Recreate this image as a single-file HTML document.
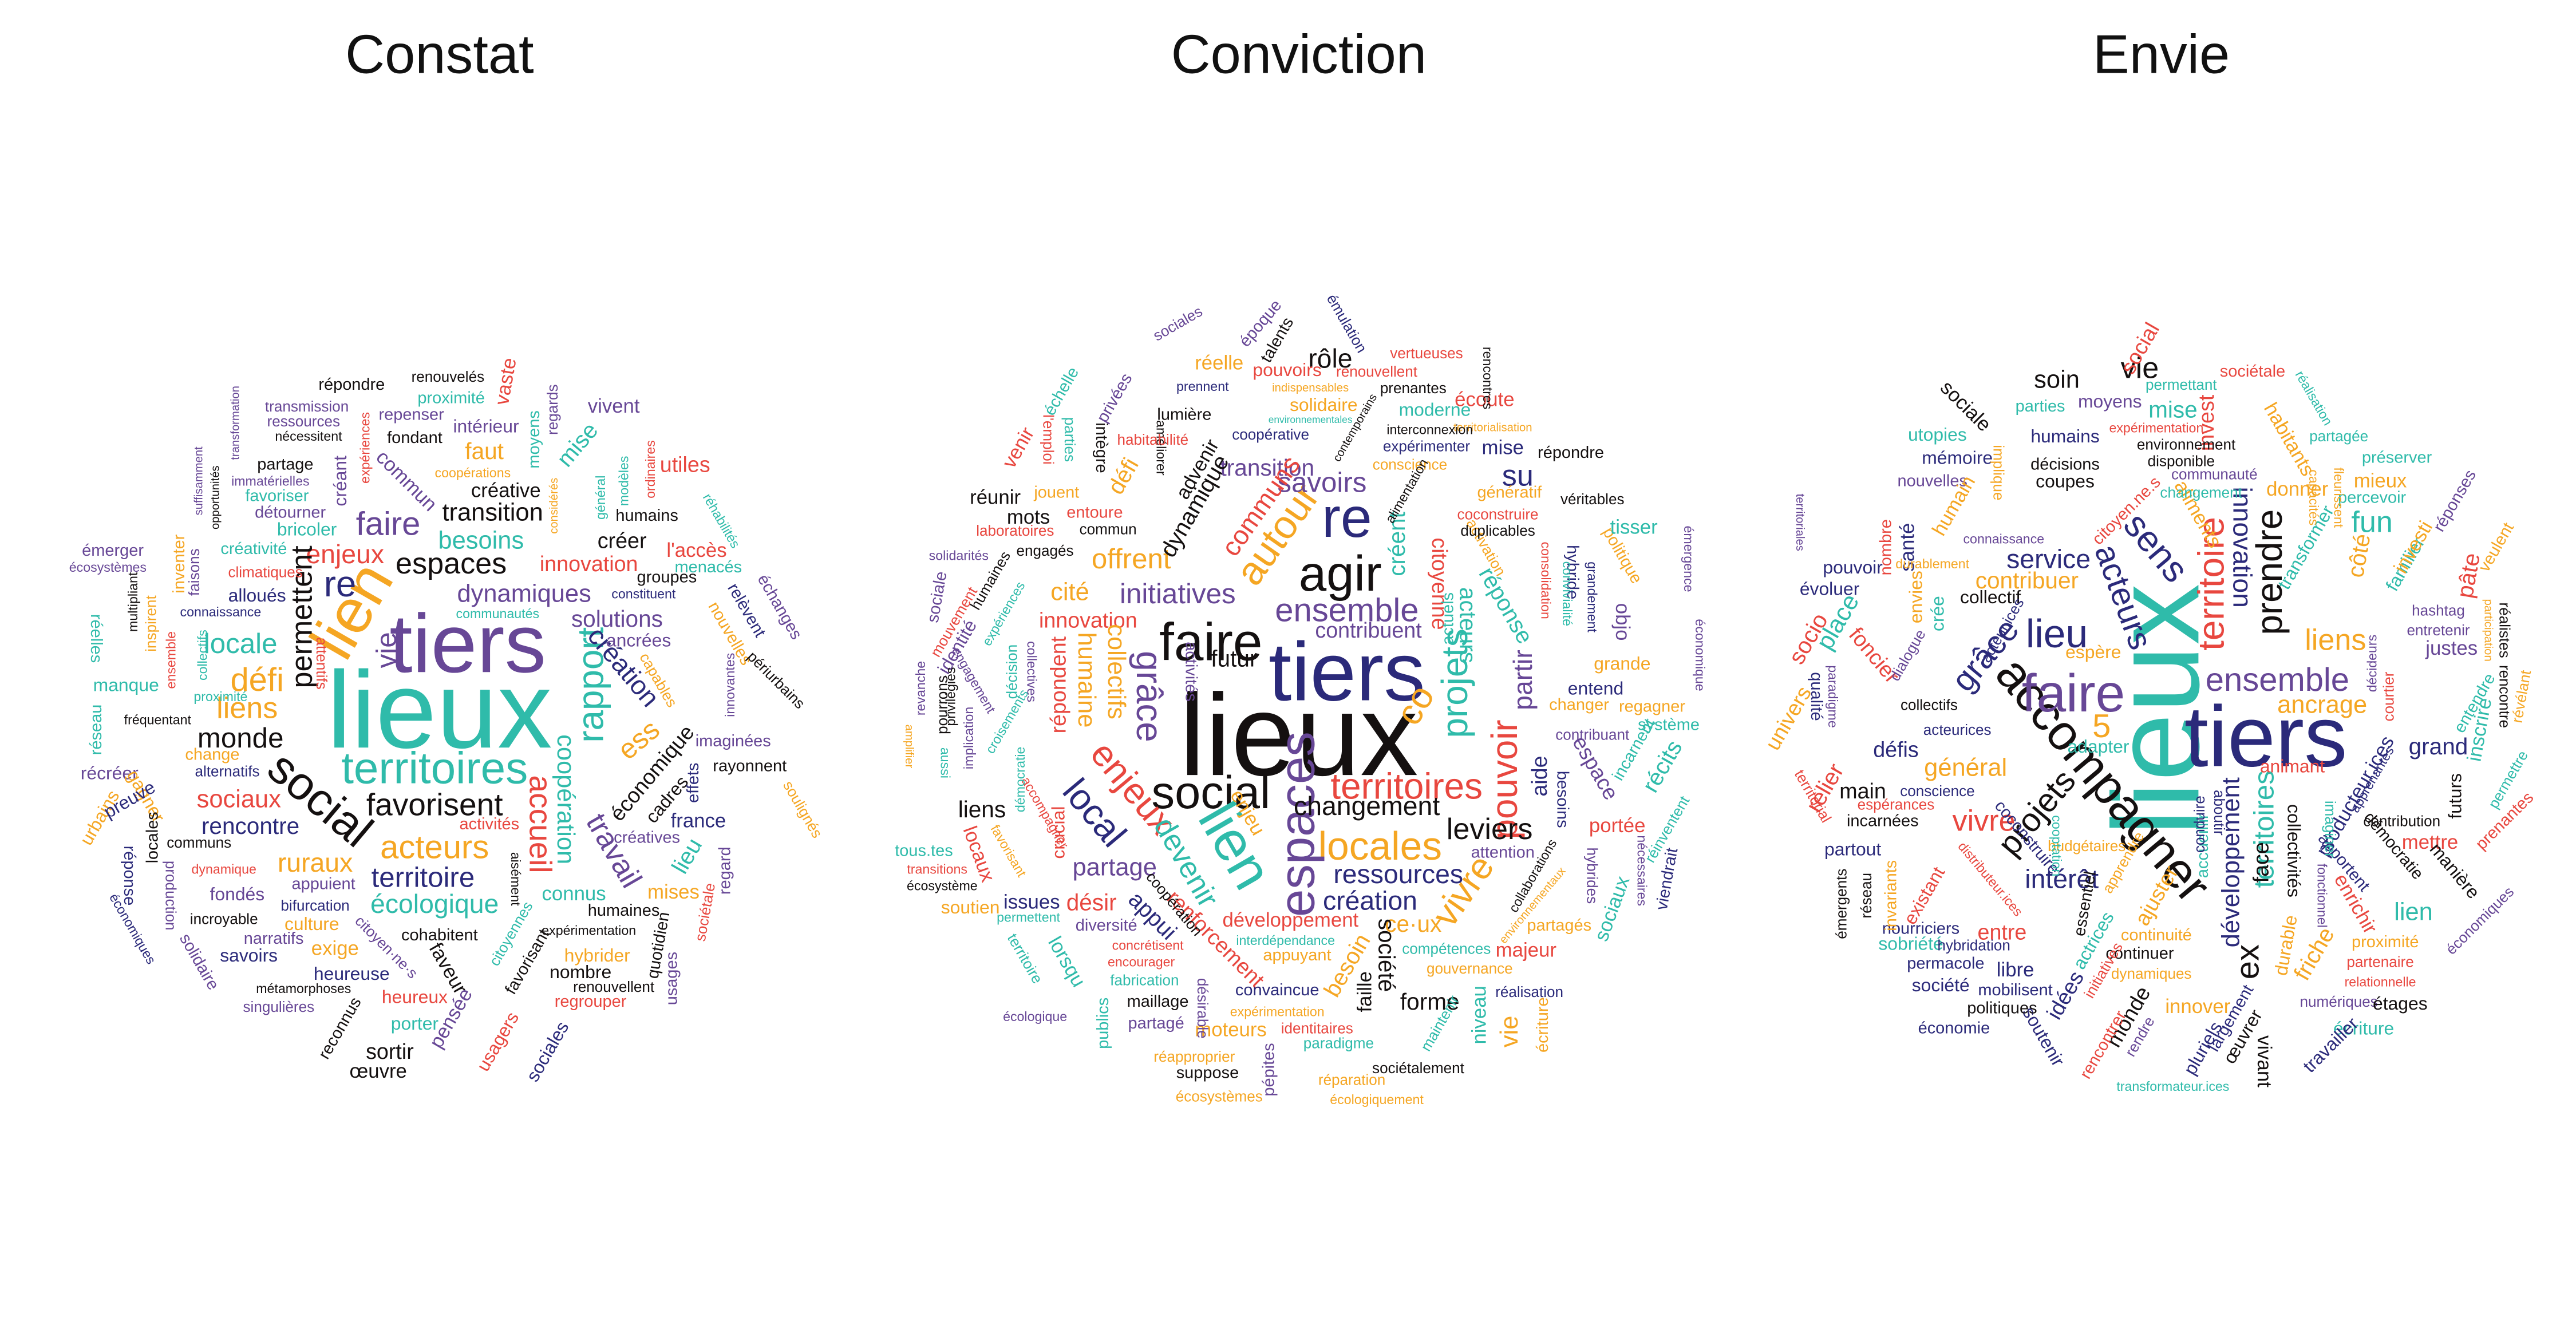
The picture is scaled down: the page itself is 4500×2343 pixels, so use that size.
<!DOCTYPE html>
<html><head><meta charset="utf-8">
<style>
html,body{margin:0;padding:0;background:#fff;}
svg{display:block;}
text{font-family:"Liberation Sans",Arial,sans-serif;}
</style></head>
<body>
<svg id="chart" width="4500" height="2343" viewBox="0 0 1553 808.6" xmlns="http://www.w3.org/2000/svg">
<rect width="1553" height="808.6" fill="#fff"/>
<text x="265" y="44" font-size="33" text-anchor="middle" fill="#111">Constat</text>
<text x="783" y="44" font-size="33" text-anchor="middle" fill="#111">Conviction</text>
<text x="1303" y="44" font-size="33" text-anchor="middle" fill="#111">Envie</text>
<g id="g-constat"></g>
<g id="g-conviction"></g>
<g id="g-envie"></g>
</svg>
<script>
const T="#2fbbaa",P="#674796",N="#2b2a7a",K="#141010",O="#f5a623",R="#e8473f";
const constatWords=[
["lieux",265,428,66,0,T],["tiers",282,388,50,0,P],["territoires",262,463,27,0,T],["social",193,482,28,40,K],
["lien",212,368,38,-60,O],["favorisent",262,485,19,0,K],["acteurs",262,511,20,0,O],["territoire",255,529,17,0,N],
["écologique",262,545,16,0,T],["espaces",272,340,18,0,K],["faire",234,316,20,0,P],["re",205,352,22,0,N],
["enjeux",208,334,16,0,R],["dynamiques",316,358,15,0,P],["rapport",356,413,22,-90,T],["monde",145,445,17,0,K],
["défi",155,410,20,0,O],["liens",149,427,18,0,O],["locale",145,388,17,0,T],["permettent",182,372,18,-90,K],
["sociaux",144,482,15,0,R],["rencontre",151,498,14,0,N],["ruraux",190,520,16,0,O],["transition",297,309,15,0,K],
["besoins",290,326,15,0,T],["solutions",372,373,14,0,P],["création",376,402,16,50,N],["ess",385,446,17,-40,O],
["accueil",326,497,19,90,R],["coopération",341,482,15,90,T],["travail",370,513,18,60,P],["vie",233,392,17,-90,P],
["économique",393,466,13,-50,K],["cadres",402,482,11,-50,K],["innovation",355,340,13,0,R],["créer",375,326,13,0,K],
["l'accès",420,332,12,0,R],["humains",390,311,10,0,K],["créative",305,296,12,0,K],["commun",245,290,12,45,P],
["faut",292,272,14,0,O],["intérieur",293,257,11,0,P],["vaste",305,230,12,-80,R],["vivent",370,245,12,0,P],
["utiles",413,280,13,0,R],["mise",348,268,14,-50,T],["répondre",212,232,10,0,K],["renouvelés",270,227,9,0,K],
["proximité",272,240,10,0,T],["fondant",250,264,10,0,K],["repenser",248,250,10,0,P],["transmission",185,245,9,0,P],
["ressources",183,254,9,0,P],["nécessitent",186,263,8,0,K],["partage",172,280,10,0,K],["favoriser",167,299,10,0,T],
["détourner",175,309,10,0,P],["bricoler",185,319,11,0,T],["créativité",153,331,10,0,T],["climatiques",160,345,9,0,R],
["alloués",155,359,11,0,N],["connaissance",133,369,8,0,N],["émerger",68,332,10,0,P],["écosystèmes",65,342,8,0,P],
["groupes",402,348,10,0,K],["constituent",388,358,8,0,N],["ancrées",385,386,11,0,P],["capables",397,410,9,60,O],
["menacés",427,342,10,0,T],["échanges",470,366,10,60,P],["réhabilités",435,314,8,60,T],["relèvent",450,368,10,60,N],
["nouvelles",440,382,10,60,O],["innovantes",440,413,8,-90,P],["périurbains",468,410,9,45,K],["rayonnent",452,462,10,0,K],
["imaginées",442,447,10,0,P],["soulignés",484,488,9,60,O],["france",421,495,12,0,N],["lieu",414,516,14,-60,T],
["mises",406,538,12,0,O],["effets",418,472,10,-90,N],["créatives",390,505,10,0,P],["humaines",376,549,10,0,K],
["hybrider",360,576,11,0,O],["renouvellent",370,595,9,0,K],["nombre",350,586,11,0,K],["regrouper",356,604,10,0,R],
["sociétale",425,550,9,-80,R],["regard",437,525,10,-90,P],["usages",405,590,10,-90,P],["quotidien",397,570,10,-80,K],
["connus",346,539,12,0,T],["expérimentation",355,561,8,0,K],["alternatifs",137,465,9,0,N],["change",128,455,10,0,O],
["réseau",58,440,10,-90,T],["récréer",66,466,11,0,P],["urbains",60,493,11,-60,O],["manque",76,413,11,0,T],
["réelles",58,385,10,90,T],["multipliant",80,363,8,-90,K],["inventer",108,340,10,-90,O],["gagner",88,480,11,60,O],
["preuve",78,482,11,-30,N],["locales",92,505,10,-90,K],["réponse",78,528,10,90,N],["économiques",80,560,8,60,N],
["production",103,540,9,90,P],["solidaire",120,580,10,60,P],["fondés",143,539,11,0,P],["incroyable",135,554,9,0,K],
["savoirs",150,576,11,0,N],["narratifs",165,566,10,0,P],["singulières",168,607,9,0,P],["métamorphoses",183,596,8,0,K],
["bifurcation",190,546,9,0,N],["appuient",195,533,10,0,P],["culture",188,557,11,0,O],["exige",202,572,12,0,O],
["heureuse",212,587,11,0,N],["heureux",250,601,11,0,R],["cohabitent",265,564,10,0,K],["faveur",270,584,12,60,K],
["reconnus",205,620,10,-60,K],["sortir",235,634,13,0,K],["œuvre",228,646,12,0,K],["porter",250,617,11,0,T],
["pensée",272,614,12,-60,P],["usagers",300,628,11,-60,R],["sociales",330,634,11,-60,N],["favorisant",318,580,10,-60,K],
["citoyennes",308,563,9,-60,T],["activités",295,497,10,0,R],["aisément",311,530,8,90,K],["citoyen·ne·s",233,571,9,45,P],
["attentifs",194,400,9,90,R],["communs",120,508,9,0,K],["proximité",133,420,8,0,T],["dynamique",135,524,8,0,R],
["fréquentant",95,434,8,0,K],["ensemble",103,398,8,-90,R],["inspirent",91,376,9,-90,O],["collectifs",122,395,8,-90,T],
["faisons",117,345,9,-90,P],["opportunités",130,300,7,-90,K],["créant",205,290,11,-90,P],["expériences",220,270,8,-90,R],
["coopérations",285,285,8,0,O],["communautés",300,370,8,0,T],["considérés",334,305,7,-90,O],["général",362,300,8,-90,T],
["modèles",376,290,8,-90,T],["ordinaires",392,283,8,-90,R],["regards",333,247,9,-90,P],["moyens",322,265,10,-90,T],
["suffisamment",120,290,7,-90,P],["transformation",142,255,7,-90,P],["immatérielles",163,290,8,0,P]
];
const convictionWords=[
["lieux",783,443,70,0,K],["tiers",812,405,50,0,N],["agir",808,346,30,0,K],["re",812,312,34,0,N],
["faire",730,387,32,0,K],["social",730,478,28,0,K],["territoires",848,474,22,0,R],["locales",832,510,24,0,O],
["espaces",782,497,30,-90,P],["lien",745,510,34,60,T],["ensemble",812,368,20,0,P],["initiatives",710,358,17,0,P],
["enjeux",683,475,22,50,R],["local",660,490,22,50,N],["grâce",693,420,22,90,P],["projets",877,412,22,-90,T],
["pouvoir",907,470,22,-90,R],["vivre",882,537,22,-55,O],["autour",770,322,24,-55,O],["savoirs",797,291,17,0,P],
["changement",824,486,16,0,K],["leviers",898,500,18,0,K],["ressources",843,527,16,0,N],["création",826,543,16,0,N],
["partage",672,523,15,0,P],["offrent",682,337,17,0,O],["cité",645,357,15,0,O],["innovation",656,374,13,0,R],
["devenir",715,520,18,60,T],["co",853,425,22,-60,O],["su",915,287,18,0,N],["rôle",802,216,16,0,K],
["transition",764,282,14,0,P],["communs",760,305,16,-55,R],["dynamique",720,305,14,-60,K],["collectifs",673,405,15,90,O],
["humaine",655,410,15,90,O],["répondent",638,413,13,-90,R],["crucial",638,502,11,-90,R],["locaux",590,515,12,70,R],
["liens",592,488,14,0,K],["futur",744,397,14,0,K],["contribuent",825,380,13,0,P],["créent",842,328,14,-90,T],
["citoyenne",868,352,13,90,R],["acteurs",885,377,14,90,T],["actuels",873,373,10,-90,T],["réponse",908,365,14,60,T],
["activation",896,330,9,60,O],["partir",918,410,16,-90,P],["aide",928,468,13,-90,N],["besoins",942,482,10,90,N],
["ce·ux",852,557,14,0,O],["société",836,576,14,90,K],["faille",823,598,12,-90,K],["forme",862,604,14,0,K],
["niveau",892,612,12,-90,T],["vie",910,622,15,-90,O],["majeur",920,573,12,0,R],["réalisation",922,598,9,0,N],
["maintenir",868,617,9,-60,T],["sociétalement",855,644,9,0,K],["désir",658,544,14,0,R],["issues",622,544,12,0,N],
["appui",695,552,14,45,N],["renforcement",733,566,13,45,R],["développement",778,555,12,0,R],["appuyant",782,576,10,0,O],
["convaincue",770,597,10,0,N],["besoin",812,582,14,-60,O],["moteurs",742,621,12,0,O],["identitaires",794,620,9,0,R],
["paradigme",807,629,9,0,T],["réparation",815,651,9,0,O],["écologiquement",830,663,8,0,O],["pépites",765,645,10,-90,P],
["suppose",728,647,10,0,K],["maillage",698,604,10,0,K],["partagé",697,617,10,0,P],["fabrication",690,591,9,0,T],
["encourager",688,580,8,0,R],["concrétisent",692,570,8,0,R],["diversité",667,558,10,0,P],["lorsqu",643,580,12,60,T],
["publics",665,617,10,-90,T],["soutien",585,547,11,0,O],["tous.tes",557,513,10,0,T],["transitions",565,524,8,0,R],
["écosystème",568,534,8,0,K],["territoire",618,578,9,60,T],["écologique",624,613,8,0,P],["sociale",565,360,10,-80,P],
["solidarités",578,335,8,0,P],["réunir",600,300,12,0,K],["mots",620,312,12,0,K],["engagés",630,332,9,0,K],
["commun",668,319,9,0,K],["entoure",660,309,10,0,R],["jouent",637,297,10,0,O],["venir",614,270,12,-60,R],
["défi",677,287,14,-60,O],["lumière",714,250,10,0,K],["prennent",725,233,8,0,N],["réelle",735,219,12,0,O],
["sociales",710,195,9,-30,P],["époque",760,195,10,-50,P],["talents",770,205,10,-60,K],["pouvoirs",776,223,11,0,R],
["indispensables",790,234,7,0,O],["solidaire",798,244,11,0,O],["environnementales",790,253,6,0,T],["coopérative",766,262,9,0,N],
["émulation",812,195,9,60,N],["vertueuses",860,213,9,0,R],["renouvellent",830,224,9,0,R],["prenantes",852,234,9,0,K],
["moderne",865,247,11,0,T],["écoute",895,241,12,0,R],["territorialisation",900,258,7,0,O],["répondre",947,273,10,0,K],
["mise",906,270,12,0,N],["expérimenter",860,269,9,0,N],["conscience",850,280,9,0,O],["génératif",910,297,10,0,O],
["véritables",960,301,9,0,K],["coconstruire",903,310,9,0,R],["duplicables",903,320,9,0,K],["hybride",948,345,10,90,N],
["consolidation",932,350,8,90,R],["convivialité",945,358,8,90,T],["grandement",960,360,8,90,N],["politique",978,335,10,60,O],
["tisser",985,318,12,0,T],["émergence",1018,337,8,90,P],["économique",1025,395,8,90,P],["objo",978,375,12,90,P],
["entend",962,415,11,0,N],["grande",978,400,11,0,O],["regagner",996,426,10,0,O],["système",1006,437,10,0,T],
["changer",952,425,10,0,O],["contribuant",960,443,9,0,P],["espace",962,463,13,60,P],["récits",1002,462,14,-60,T],
["portée",975,498,12,0,R],["incarnent",985,452,10,-60,T],["réinventent",1005,500,9,-60,T],["viendrait",1005,530,10,-80,N],
["sociaux",972,548,12,-70,T],["nécessaires",990,525,8,90,P],["hybrides",960,528,9,90,P],["partagés",940,558,10,0,O],
["gouvernance",886,584,9,0,O],["compétences",872,572,9,0,T],["attention",906,514,10,0,P],["collaborations",924,528,8,-60,K],
["environnementaux",924,546,7,-50,O],["écriture",930,618,10,-90,O],["interdépendance",775,567,8,0,T],["expérimentation",770,610,8,0,O],
["réapproprier",720,637,9,0,O],["écosystèmes",735,661,9,0,O],["désirable",725,608,9,90,P],["coopération",708,545,9,50,K],
["enjeu",752,490,12,60,O],["activités",718,405,10,90,P],["alimentation",848,296,8,-60,K],["interconnexion",862,259,8,0,K],
["contemporains",817,258,7,-60,K],["rencontres",897,228,8,90,K],["améliorer",700,270,8,90,K],["intègre",664,270,10,90,K],
["parties",645,265,9,90,T],["privées",672,240,10,-60,P],["échelle",640,236,10,-60,T],["l'emploi",632,265,9,90,R],
["habitabilité",695,265,9,0,R],["advenir",722,283,12,-60,K],["identité",577,390,11,-60,P],["mouvement",575,375,9,-60,R],
["humaines",597,350,9,-60,K],["expériences",605,370,8,-60,T],["laboratoires",612,320,9,0,R],["revanche",555,415,8,-90,P],
["pourrons",568,425,9,-90,K],["privilégiés",573,420,8,-90,K],["implication",584,445,8,-90,P],["croisements",607,435,8,-60,T],
["décision",610,405,9,-90,T],["engagement",587,410,8,60,P],["collectives",622,405,8,90,P],["accompagner",630,490,8,60,R],
["favorisant",608,513,8,60,O],["démocratie",615,470,8,-90,T],["permettent",620,553,8,0,T],["amplifier",548,450,7,90,O],
["aussi",570,460,8,90,T]
];
const envieWords=[
["lieux",1300,428,74,-90,T],["tiers",1366,444,52,0,N],["accompagner",1268,470,30,50,K],["faire",1250,418,32,0,P],
["lieu",1240,382,24,0,N],["ensemble",1373,410,20,0,P],["territoire",1333,352,22,-90,R],["prendre",1368,345,22,-90,K],
["innovation",1352,330,16,90,N],["sens",1300,330,22,50,N],["acteurs",1280,360,20,70,N],["service",1235,337,16,0,N],
["vivre",1196,495,18,0,R],["intérêt",1243,530,16,0,N],["projets",1228,490,20,-50,K],["grâce",1197,395,20,-50,N],
["liens",1408,386,18,0,O],["ancrage",1400,425,15,0,O],["fun",1430,315,18,0,T],["vie",1290,222,18,0,K],
["soin",1240,229,15,0,K],["main",1123,477,13,0,K],["général",1185,463,15,0,O],["territoires",1365,500,17,-90,T],
["5",1267,438,20,0,O],["ex",1355,580,20,-90,K],["entre",1207,562,13,0,R],["libre",1215,585,12,0,N],
["idées",1245,600,13,-60,N],["monde",1283,613,13,-60,K],["innover",1325,607,12,0,O],["pluriels",1328,632,11,-60,N],
["vivant",1365,640,12,90,K],["largement",1345,614,10,-60,N],["œuvrer",1352,625,11,-60,K],["développement",1345,520,15,-90,N],
["face",1363,520,13,-90,K],["collectivités",1383,513,11,90,K],["accueillir",1328,510,10,-90,T],["animant",1382,462,11,0,R],
["contribuer",1222,350,14,0,O],["collectif",1200,360,11,0,K],["mémoire",1180,276,11,0,N],["utopies",1168,262,11,0,T],
["humains",1245,263,11,0,N],["décisions",1245,280,10,0,K],["coupes",1245,290,11,0,K],["moyens",1272,242,11,0,P],
["mise",1310,247,14,0,T],["sociétale",1358,224,10,0,R],["partagée",1410,263,9,0,T],["préserver",1445,276,10,0,T],
["mieux",1435,290,12,0,O],["percevoir",1430,300,10,0,T],["donner",1385,295,12,0,O],["transformer",1390,330,11,-60,T],
["côté",1422,335,14,-80,O],["familier",1450,340,11,-60,T],["pâte",1488,347,14,-80,R],["hashtag",1470,368,9,0,P],
["entretenir",1470,380,9,0,P],["justes",1478,391,12,0,P],["grand",1470,450,14,0,N],["mettre",1465,508,12,0,R],
["manière",1480,525,11,50,K],["démocratie",1443,510,10,50,K],["contribution",1448,495,9,0,K],["futurs",1480,480,11,-90,K],
["apportent",1413,520,10,50,N],["enrichir",1420,545,12,60,R],["proximité",1438,568,10,0,O],["partenaire",1435,580,9,0,R],
["relationnelle",1435,592,8,0,R],["numériques",1410,604,9,0,P],["étages",1447,605,11,0,K],["écriture",1425,620,11,0,T],
["travailler",1405,630,11,-45,N],["lien",1455,550,15,0,T],["friche",1395,575,14,-60,O],["durable",1378,570,11,-80,O],
["économiques",1495,555,9,-45,P],["prenantes",1510,495,10,-45,R],["permettre",1512,470,9,-60,T],["inscrire",1495,440,12,-80,T],
["entendre",1492,424,10,-60,T],["rencontre",1510,420,9,90,K],["révélant",1520,420,9,-80,O],["réalistes",1510,380,9,90,K],
["producteur.ices",1420,480,12,-60,N],["coconstruire",1222,505,10,50,N],["budgétaires",1258,510,9,0,O],["essentiel",1257,545,10,-80,K],
["adapter",1265,450,11,0,T],["actrices",1262,567,11,-60,T],["continuité",1300,564,10,0,O],["dynamiques",1297,587,9,0,O],
["continuer",1290,575,10,0,K],["ajuster",1300,540,13,-60,O],["initiatives",1268,585,9,-60,R],["rencontrer",1268,630,10,-60,R],
["soutenir",1232,625,11,60,N],["économie",1178,620,10,0,N],["politiques",1207,608,10,0,K],["mobilisent",1215,597,10,0,N],
["société",1170,594,11,0,N],["permacole",1173,581,10,0,N],["sobriété",1152,569,11,0,T],["nourriciers",1158,560,10,0,N],
["existant",1160,540,11,-60,R],["invariants",1140,540,10,-90,O],["émergents",1110,545,9,-90,K],["réseau",1125,540,9,-90,K],
["partout",1117,512,11,0,N],["incarnées",1135,495,10,0,K],["relier",1100,475,14,-60,R],["territorial",1093,480,9,60,R],
["univers",1078,433,13,-60,O],["qualité",1095,420,10,90,N],["défis",1143,452,13,0,N],["foncier",1130,395,13,50,R],
["socio",1090,385,14,-60,R],["place",1108,375,15,-60,T],["évoluer",1103,355,11,0,N],["pouvoir",1117,342,11,0,N],
["santé",1150,330,12,-90,N],["nombre",1137,330,10,-90,R],["nouvelles",1165,290,10,0,P],["sociale",1185,245,12,45,K],
["crée",1168,370,11,-90,T],["envies",1155,360,11,-90,O],["humain",1178,305,12,-60,O],["acteur.ices",1207,380,9,-60,N],
["acteurices",1180,440,9,0,N],["conscience",1168,477,9,0,N],["espérances",1143,485,9,0,R],["invest",1330,255,13,-90,R],
["social",1290,210,13,-60,R],["habitants",1380,265,12,60,O],["aliments",1325,310,12,60,O],["citoyen.ne.s",1282,308,10,-45,R],
["environnement",1318,268,9,0,K],["communauté",1335,286,9,0,P],["changement",1327,297,9,0,T],["permettant",1315,232,9,0,T],
["réalisation",1395,240,8,60,T],["espère",1262,393,11,0,O],["investi",1455,330,12,-60,O],["réponses",1480,302,10,-60,P],
["veulent",1505,330,10,-60,O],["parties",1230,245,10,0,T],["connaissance",1208,325,8,0,P],["durablement",1165,340,8,0,O],
["dialogue",1150,395,9,-60,P],["territoriales",1085,315,7,90,P],["paradigme",1105,420,8,90,P],["collectifs",1163,425,9,0,K],
["hybridation",1190,570,9,0,N],["distributeur.ices",1200,530,8,50,R],["fleurissent",1410,300,8,90,O],["capacités",1395,300,8,90,O],
["décideurs",1430,400,8,-90,P],["apprenantes",1430,470,8,-60,N],["disponible",1315,278,9,0,K],["expérimentation",1300,258,8,0,R],
["implique",1205,285,9,90,O],["cooptation",1240,510,8,90,T],["aboutir",1338,490,9,90,N],["conduire",1326,497,9,-90,N],
["apprendre",1280,520,9,-60,O],["transformateur.ices",1310,655,8,0,T],["imaginer",1405,500,9,90,T],["fonctionnel",1400,540,8,90,P],
["courtier",1440,420,9,-90,R],["participation",1500,380,7,90,O],["rendre",1290,625,9,-60,P]
];
const svgNS="http://www.w3.org/2000/svg";
function draw(list, gid, prefix){
  const g=document.getElementById(gid);
  list.forEach(function(w){
    const el=document.createElementNS(svgNS,"text");
    
    
    el.setAttribute("x",0);el.setAttribute("y",0);
    el.setAttribute("text-anchor","middle");
    el.setAttribute("dominant-baseline","central");
    el.setAttribute("font-size",w[3]);
    el.setAttribute("fill",w[5]);
    el.setAttribute("transform","translate("+w[1]+","+w[2]+") rotate("+w[4]+")");
    el.textContent=w[0];
    g.appendChild(el);
  });
}
draw(constatWords,"g-constat","constat");
draw(convictionWords,"g-conviction","conviction");
draw(envieWords,"g-envie","envie");
</script>
</body></html>
